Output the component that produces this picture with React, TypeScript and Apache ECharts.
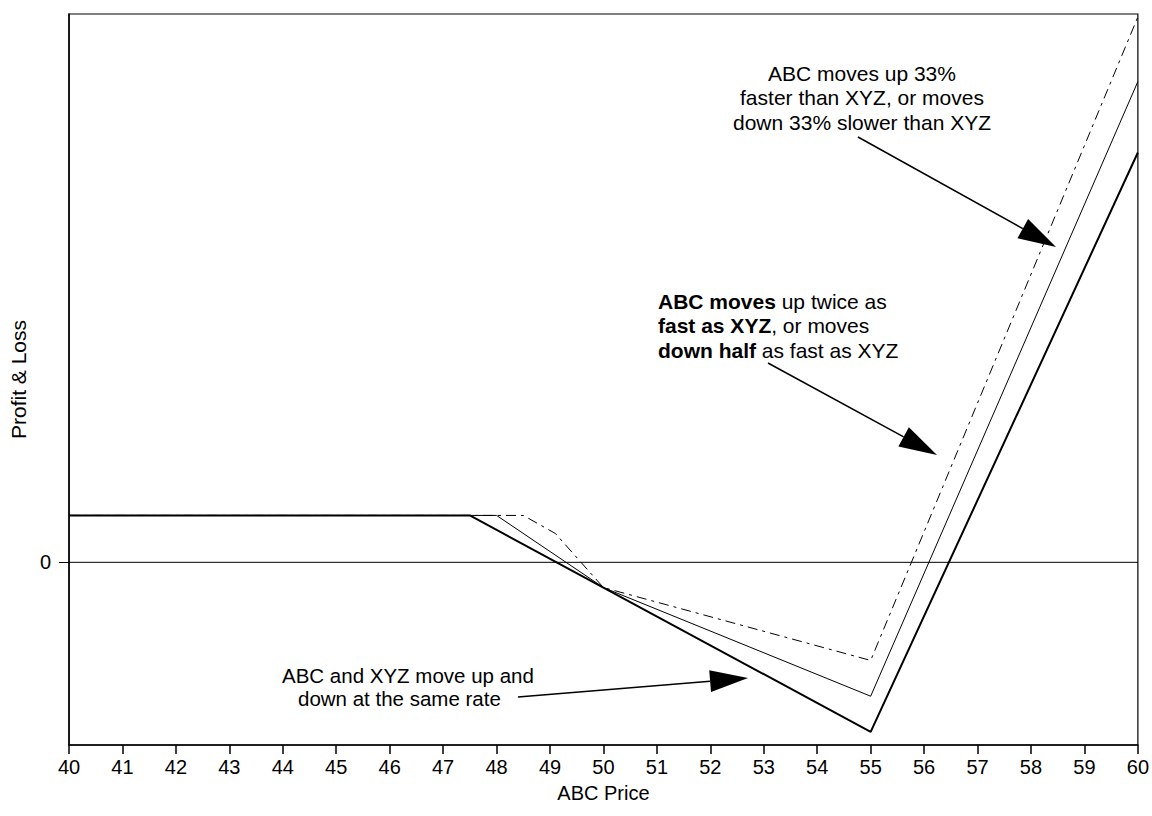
import React, { useEffect, useRef } from "react";
import * as echarts from "echarts";

// ABC price (x) and profit & loss (y) for each scenario
const sameRateX = [40, 47.5, 55, 60];
const sameRateY = [1.625, 1.625, -5.875, 14.2];

const twiceX = [40, 48, 50, 55, 60];
const twiceY = [1.625, 1.625, -0.875, -4.64, 16.66];

const thirtyThreeX = [40, 48.5, 49.1, 50, 55, 60];
const thirtyThreeY = [1.625, 1.625, 1.0, -0.875, -3.4, 18.9];

const zeroX = [40, 60];
const zeroY = [0, 0];

const yMin = -6.33;
const yMax = 19;

const FONT = "'Liberation Sans', Arial, Helvetica, sans-serif";

const pair = (xs: number[], ys: number[]) => xs.map((x, i) => [x, ys[i]]);

function arrow(x1: number, y1: number, x2: number, y2: number, headLen = 38, headHalf = 11) {
  const dx = x2 - x1;
  const dy = y2 - y1;
  const len = Math.sqrt(dx * dx + dy * dy);
  const ux = dx / len;
  const uy = dy / len;
  const bx = x2 - ux * headLen;
  const by = y2 - uy * headLen;
  const px = -uy * headHalf;
  const py = ux * headHalf;
  return [
    {
      type: "line",
      shape: { x1, y1, x2: bx, y2: by },
      style: { stroke: "#000", lineWidth: 1.5 },
      z: 100,
    },
    {
      type: "polygon",
      shape: {
        points: [
          [x2, y2],
          [bx + px, by + py],
          [bx - px, by - py],
        ],
      },
      style: { fill: "#000" },
      z: 100,
    },
  ];
}

export default function App() {
  const ref = useRef<HTMLDivElement>(null);

  useEffect(() => {
    if (!ref.current) return;
    const chart = echarts.init(ref.current, null, { renderer: "svg" });

    const textBase = (size: number) => ({
      fill: "#000",
      fontSize: size,
      fontFamily: FONT,
      lineHeight: 24.5,
    });

    chart.setOption({
      animation: false,
      backgroundColor: "#fff",
      grid: {
        left: 60,
        right: 13,
        top: 14,
        bottom: 71,
        show: true,
        borderColor: "#000",
        borderWidth: 1.2,
      },
      xAxis: {
        type: "value",
        min: 40,
        max: 60,
        interval: 1,
        name: "ABC Price",
        nameLocation: "middle",
        nameGap: 38,
        nameTextStyle: { color: "#000", fontSize: 20, fontFamily: FONT },
        axisLine: { onZero: false, lineStyle: { color: "#000", width: 1.5 } },
        axisTick: { length: 9, lineStyle: { color: "#000", width: 1.5 } },
        axisLabel: { color: "#000", fontSize: 20, fontFamily: FONT, margin: 12 },
        splitLine: { show: false },
      },
      yAxis: {
        type: "value",
        min: yMin,
        max: yMax,
        name: "Profit & Loss",
        nameLocation: "middle",
        nameRotate: 90,
        nameGap: 3,
        nameTextStyle: { color: "#000", fontSize: 21, fontFamily: FONT },
        axisLine: { onZero: false, lineStyle: { color: "#000", width: 1.5 } },
        axisTick: { length: 10, customValues: [0], lineStyle: { color: "#000", width: 1 } },
        axisLabel: { color: "#000", fontSize: 20, fontFamily: FONT, margin: 18, customValues: [0] },
        splitLine: { show: false },
      },
      series: [
        {
          name: "zero",
          type: "line",
          data: pair(zeroX, zeroY),
          symbol: "none",
          lineStyle: { color: "#000", width: 1 },
        },
        {
          name: "33% faster",
          type: "line",
          data: pair(thirtyThreeX, thirtyThreeY),
          symbol: "none",
          lineStyle: { color: "#000", width: 1, type: [10, 5, 3, 5] },
        },
        {
          name: "Twice as fast",
          type: "line",
          data: pair(twiceX, twiceY),
          symbol: "none",
          lineStyle: { color: "#000", width: 1 },
        },
        {
          name: "Same rate",
          type: "line",
          data: pair(sameRateX, sameRateY),
          symbol: "none",
          lineStyle: { color: "#000", width: 2 },
        },
      ],
      graphic: [
        {
          type: "text",
          x: 862,
          y: 61,
          z: 100,
          style: {
            ...textBase(21),
            text: "ABC moves up 33%\nfaster than XYZ, or moves\ndown 33% slower than XYZ",
            align: "center",
            verticalAlign: "top",
          },
        },
        {
          type: "text",
          x: 658,
          y: 289,
          z: 100,
          style: {
            ...textBase(21),
            text: "{b|ABC moves} up twice as\n{b|fast as XYZ}, or moves\n{b|down half} as fast as XYZ",
            align: "left",
            verticalAlign: "top",
            rich: {
              b: { fontWeight: "bold", fontSize: 21, fontFamily: FONT, fill: "#000", lineHeight: 24.5 },
            },
          },
        },
        {
          type: "text",
          x: 282,
          y: 663,
          z: 100,
          style: { ...textBase(20.5), text: "ABC and XYZ move up and", align: "left", verticalAlign: "top" },
        },
        {
          type: "text",
          x: 298,
          y: 686,
          z: 100,
          style: { ...textBase(20.5), text: "down at the same rate", align: "left", verticalAlign: "top" },
        },
        ...arrow(858, 137, 1056, 247),
        ...arrow(768, 363, 937, 455),
        ...arrow(518, 697, 748, 678),
      ],
    });

    return () => chart.dispose();
  }, []);

  return (
    <div
      ref={ref}
      style={{ position: "absolute", left: 0, top: 0, width: 1152, height: 816, background: "#fff" }}
    />
  );
}
